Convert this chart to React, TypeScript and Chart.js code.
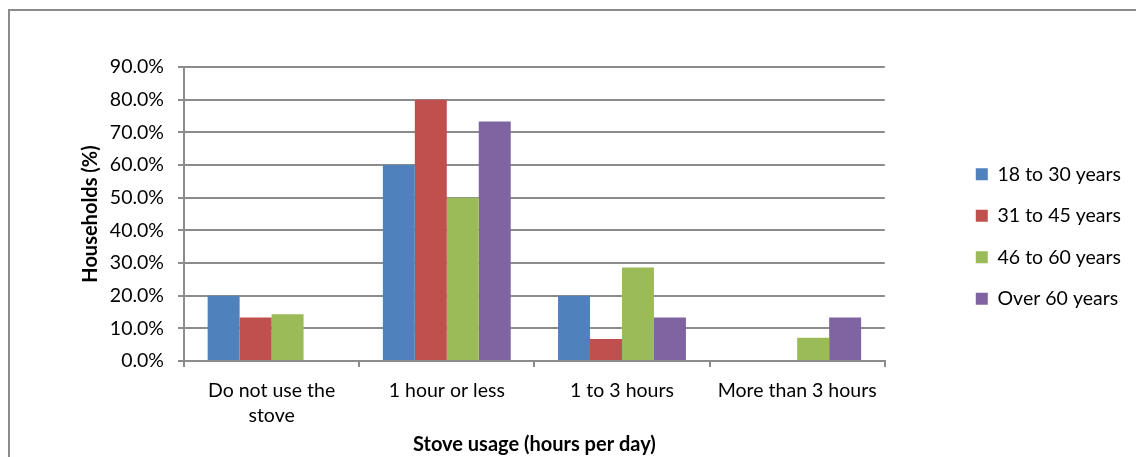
import React, { useEffect, useRef } from "react";
import { Chart, registerables } from "chart.js";

Chart.register(...registerables);

// ---- data ----
const categories: (string | string[])[] = [
  ["Do not use the", "stove"],
  "1 hour or less",
  "1 to 3 hours",
  "More than 3 hours",
];
const seriesNames = ["18 to 30 years", "31 to 45 years", "46 to 60 years", "Over 60 years"];
const age18to30 = [20, 60, 20, 0];
const age31to45 = [13.3, 80, 6.7, 0];
const age46to60 = [14.3, 50, 28.6, 7.1];
const over60 = [0, 73.3, 13.3, 13.3];
const seriesColors = ["#4F81BD", "#C0504D", "#9BBB59", "#8064A2"];
const yMin = 0;
const yMax = 90;
const yStep = 10;
const yTitle = "Households (%)";
const xTitle = "Stove usage (hours per day)";

const FONT = "Lato, 'Open Sans', sans-serif";
const GRID = "#8c8c8c";

const framePlugin = {
  id: "frame",
  beforeDraw(chart: any) {
    const ctx = chart.ctx;
    ctx.save();
    ctx.strokeStyle = GRID;
    ctx.lineWidth = 2;
    ctx.beginPath();
    ctx.moveTo(9, chart.height + 2);
    ctx.lineTo(9, 10);
    ctx.lineTo(chart.width + 2, 10);
    ctx.stroke();
    ctx.restore();
  },
};

export default function App() {
  const ref = useRef<HTMLCanvasElement | null>(null);
  useEffect(() => {
    if (!ref.current) return;
    const values = [age18to30, age31to45, age46to60, over60];
    const chart = new Chart(ref.current, {
      type: "bar",
      data: {
        labels: categories,
        datasets: values.map((v, i) => ({
          label: seriesNames[i],
          data: v,
          backgroundColor: seriesColors[i],
          borderWidth: 0,
          categoryPercentage: 0.73,
          barPercentage: 1,
        })),
      },
      options: {
        responsive: false,
        animation: false,
        devicePixelRatio: 1,
        layout: { padding: { left: 20, right: 5, top: 16, bottom: 0 } },
        plugins: {
          legend: {
            position: "right",
            labels: {
              boxWidth: 12,
              boxHeight: 12,
              padding: 22,
              color: "#000",
              font: { family: FONT, size: 19.5 },
            },
          },
          tooltip: { enabled: false },
        },
        scales: {
          x: {
            type: "category",
            grid: {
              display: true,
              drawOnChartArea: false,
              drawTicks: true,
              tickLength: 6,
              color: GRID,
              lineWidth: 2,
              offset: true,
            },
            border: { display: true, color: GRID, width: 2 },
            ticks: {
              color: "#000",
              padding: 11,
              maxRotation: 0,
              autoSkip: false,
              font: { family: FONT, size: 19.5, lineHeight: 1.28 },
            },
            title: {
              display: true,
              text: xTitle,
              color: "#000",
              padding: { top: 3, bottom: 0 },
              font: { family: FONT, size: 20, weight: "bold" },
            },
            afterFit: (s: any) => {
              s.height = 96;
            },
          },
          y: {
            type: "linear",
            min: yMin,
            max: yMax,
            grid: { color: GRID, lineWidth: 2, drawTicks: true, tickLength: 6 },
            border: { display: true, color: GRID, width: 2 },
            ticks: {
              stepSize: yStep,
              color: "#000",
              padding: 14,
              font: { family: FONT, size: 19.5 },
              callback: (v: any) => Number(v).toFixed(1) + "%",
            },
            title: {
              display: true,
              text: yTitle,
              color: "#000",
              padding: { top: 59, bottom: 0 },
              font: { family: FONT, size: 20, weight: "bold" },
            },
            afterFit: (s: any) => {
              s.width = 164;
            },
          },
          gapRight: {
            type: "linear",
            position: "right",
            display: true,
            grid: { display: false },
            border: { display: false },
            ticks: { display: false },
            afterFit: (s: any) => {
              s.width = 69;
            },
          },
          gapTop: {
            type: "linear",
            position: "top",
            axis: "x",
            display: true,
            grid: { display: false },
            border: { display: false },
            ticks: { display: false },
            afterFit: (s: any) => {
              s.height = 51;
            },
          },
        },
      } as any,
      plugins: [framePlugin],
    });
    return () => chart.destroy();
  }, []);
  return (
    <div
      style={{
        position: "fixed",
        left: 0,
        top: 0,
        width: 1136,
        height: 457,
        background: "#fff",
      }}
    >
      <canvas ref={ref} width={1136} height={457} style={{ display: "block" }} />
    </div>
  );
}
